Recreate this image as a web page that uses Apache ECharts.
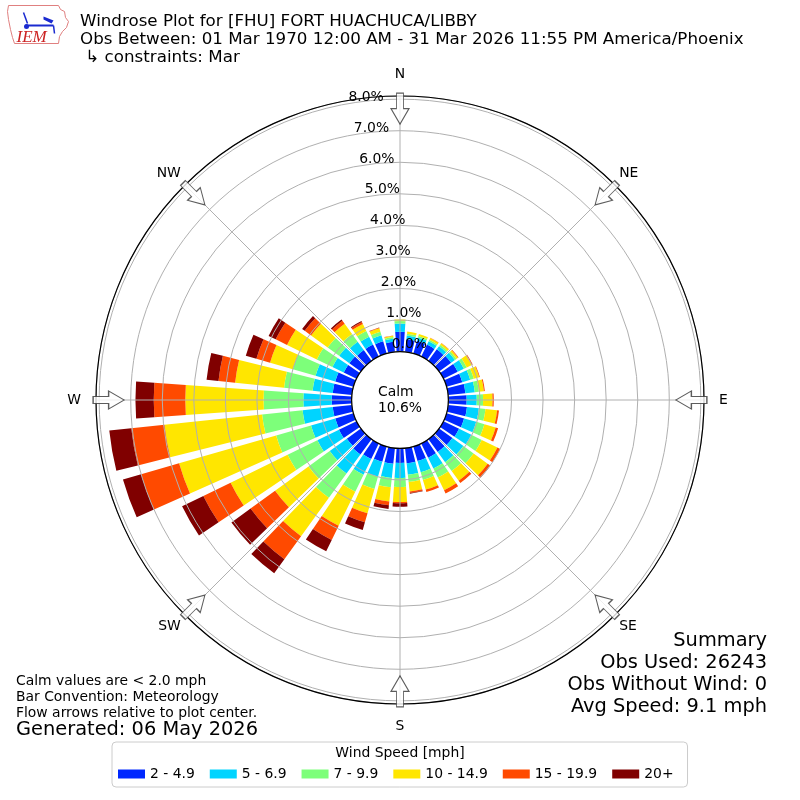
<!DOCTYPE html>
<html><head><meta charset="utf-8">
<script src="https://cdn.jsdelivr.net/npm/echarts@6/dist/echarts.min.js"></script>
<style>html,body{margin:0;padding:0;background:#fff}#c{width:800px;height:800px}</style>
</head><body><div id="c"></div>
<script>
// ---- data ----
const directions = [0,10,20,30,40,50,60,70,80,90,100,110,120,130,140,150,160,170,180,190,200,210,220,230,240,250,260,270,280,290,300,310,320,330,340,350];
const compassNames = ['N','NE','E','SE','S','SW','W','NW'];
const compassAngles = [0,45,90,135,180,225,270,315];
const speedBins = ['2 - 4.9','5 - 6.9','7 - 9.9','10 - 14.9','15 - 19.9','20+'];
const binColors = ['#0028ff','#00d4ff','#7dff7a','#ffe600','#ff4a00','#800000'];
const radialTicks = [0,1,2,3,4,5,6,7,8];
const summaryLines = ['Summary','Obs Used: 26243','Obs Without Wind: 0','Avg Speed: 9.1 mph'];
// percent of observations per direction, per speed bin
const spd2to5   = [.63,.40,.42,.42,.45,.47,.50,.52,.55,.58,.60,.58,.55,.52,.50,.50,.48,.48,.46,.50,.50,.55,.60,.55,.62,.60,.61,.63,.61,.60,.45,.45,.42,.42,.40,.32];
const spd5to7   = [.26,.12,.11,.12,.12,.15,.22,.26,.30,.32,.38,.40,.43,.43,.40,.38,.37,.37,.48,.45,.50,.55,.75,.67,.76,.80,.96,.90,.64,.65,.40,.40,.33,.28,.20,.10];
const spd7to10  = [.08,.06,.05,.05,.06,.06,.10,.12,.13,.20,.21,.27,.37,.40,.35,.32,.25,.23,.28,.30,.40,.60,.95,.83,1.05,1.15,1.29,1.26,.91,.75,.55,.45,.30,.20,.12,.05];
const spd10to15 = [.05,.07,.06,.06,.06,.06,.18,.18,.16,.30,.37,.37,.55,.55,.38,.45,.32,.30,.48,.45,.80,1.20,1.50,1.31,2.01,3.20,3.11,2.48,1.56,.75,1.05,.65,.40,.25,.11,.04];
const spd15to20 = [0,0,0,.01,.01,.02,.03,.02,.03,.04,.06,.08,.10,.10,.09,.11,.08,.05,.04,.12,.30,.50,.90,.96,.96,1.25,1.06,1.00,.53,.45,.40,.25,.12,.07,.02,.01];
const spd20plus = [0,0,0,0,0,0,0,0,0,0,0,0,0,.01,0,0,0,.02,.11,.12,.25,.40,.55,.75,.75,.60,.70,.58,.38,.35,.25,.10,.05,.03,.01,0];
const calmPct = 10.6;
const arrowRadius = 7.7;

const seriesData = [spd2to5, spd5to7, spd7to10, spd10to15, spd15to20, spd20plus];
const FONT = 'DejaVu Sans';
const RMAX = 8.1;
const CENTER = [400, 400];
const RADII = [48.4, 304];

const chart = echarts.init(document.getElementById('c'), null, {renderer: 'canvas'});

const barSeries = speedBins.map((name, i) => ({
  name, type: 'bar', coordinateSystem: 'polar', polarIndex: 0, stack: 'rose',
  data: seriesData[i], barCategoryGap: '20%',
  itemStyle: {color: binColors[i]}, z: 2, silent: true
}));

const arrowPath = 'path://M-3.5,-15.5 L3.5,-15.5 L3.5,0 L9,0 L0,15.5 L-9,0 L-3.5,0 Z';
const arrowSeries = {
  type: 'scatter', coordinateSystem: 'polar', polarIndex: 1, z: 6, silent: true,
  symbol: arrowPath, symbolSize: [18, 31],
  itemStyle: {color: '#fff', borderColor: '#333', borderWidth: 1.1},
  data: compassAngles.map(a => ({value: [arrowRadius, a], symbolRotate: -a}))
};

const isCardinal = a => a % 90 === 0;

const summaryGraphics = summaryLines.map((t, i) => ({
  type: 'text', right: 33, top: 631 + i * 22, z: 10, silent: true,
  style: {text: t, font: '19.4px "DejaVu Sans"', fill: '#000'}
}));

const option = {
  animation: false,
  backgroundColor: '#fff',
  textStyle: {fontFamily: FONT},
  polar: [
    {center: CENTER, radius: RADII},
    {center: CENTER, radius: RADII},
    {center: [409.3, 344.5], radius: [0, 31.4 * RMAX]},
    {center: CENTER, radius: RADII}
  ],
  angleAxis: [
    {polarIndex: 0, type: 'category', data: directions, startAngle: 95, clockwise: true, show: false},
    {polarIndex: 1, type: 'value', min: 0, max: 360, interval: 45, startAngle: 90, clockwise: true, z: 4,
     axisLine: {show: true, lineStyle: {color: '#000', width: 1.2}},
     axisTick: {show: false},
     axisLabel: {show: true, margin: 15, fontSize: 13.9, color: '#000', fontFamily: FONT,
       formatter: v => { const k = compassAngles.indexOf(v); return (k >= 0 && isCardinal(v)) ? compassNames[k] : ''; }},
     splitLine: {show: true, lineStyle: {color: '#b0b0b0', width: 1}}},
    {polarIndex: 2, type: 'value', min: 0, max: 360, startAngle: 99.9, clockwise: true, show: false},
    {polarIndex: 3, type: 'value', min: 0, max: 360, interval: 45, startAngle: 90, clockwise: true, z: 4,
     axisLine: {show: false}, axisTick: {show: false}, splitLine: {show: false},
     axisLabel: {show: true, margin: 6, fontSize: 13.9, color: '#000', fontFamily: FONT,
       formatter: v => { const k = compassAngles.indexOf(v); return (k >= 0 && !isCardinal(v)) ? compassNames[k] : ''; }}}
  ],
  radiusAxis: [
    {polarIndex: 0, type: 'value', min: 0, max: RMAX, show: false},
    {polarIndex: 1, type: 'value', min: 0, max: RMAX, interval: 1, z: 4,
     axisLine: {show: false}, axisTick: {show: false}, axisLabel: {show: false},
     splitLine: {show: true, lineStyle: {color: '#b0b0b0', width: 1}}},
    {polarIndex: 2, type: 'value', min: 0, max: RMAX, interval: 1, z: 5,
     axisLine: {show: false}, axisTick: {show: false}, splitLine: {show: false},
     axisLabel: {show: true, margin: 0, align: 'center', verticalAlign: 'middle', fontSize: 13.9, color: '#000', fontFamily: FONT,
       formatter: v => radialTicks.indexOf(v) >= 0 ? v.toFixed(1) + '%' : ''}},
    {polarIndex: 3, type: 'value', min: 0, max: RMAX, show: false}
  ],
  legend: {
    data: speedBins, left: 112, top: 742, orient: 'horizontal',
    icon: 'rect', itemWidth: 27, itemHeight: 9, itemGap: 15,
    padding: [25, 14, 6, 6],
    backgroundColor: '#fff', borderColor: '#cccccc', borderWidth: 1, borderRadius: 4,
    textStyle: {fontSize: 13.9, color: '#000', fontFamily: FONT},
    selectedMode: false
  },
  title: [
    {text: 'Windrose Plot for [FHU] FORT HUACHUCA/LIBBY\nObs Between: 01 Mar 1970 12:00 AM - 31 Mar 2026 11:55 PM America/Phoenix\n \u21B3 constraints: Mar',
     left: 80, top: 13, padding: 0,
     textStyle: {fontSize: 16.7, lineHeight: 18, fontWeight: 'normal', color: '#000', fontFamily: FONT}},
    {text: 'Calm values are < 2.0 mph\nBar Convention: Meteorology\nFlow arrows relative to plot center.',
     left: 16, top: 673, padding: 0,
     textStyle: {fontSize: 13.9, lineHeight: 16, fontWeight: 'normal', color: '#000', fontFamily: FONT}},
    {text: 'Generated: 06 May 2026', left: 16, top: 719, padding: 0,
     textStyle: {fontSize: 19.4, lineHeight: 22, fontWeight: 'normal', color: '#000', fontFamily: FONT}},
    {text: 'Wind Speed [mph]', left: 'center', top: 745, padding: 0, z: 10,
     textStyle: {fontSize: 13.9, lineHeight: 16, fontWeight: 'normal', color: '#000', fontFamily: FONT}}
  ],
  graphic: [
    {type: 'text', left: 'center', top: 384, z: 10, silent: true,
     style: {text: 'Calm\n' + calmPct.toFixed(1) + '%', font: '13.9px "DejaVu Sans"', fill: '#000', align: 'center', lineHeight: 16}},
    ...summaryGraphics,
    {type: 'group', left: 5, top: 3, z: 10, silent: true, children: [
      {type: 'polyline', shape: {points: [[1,1],[51,1],[53,5],[57,7],[58,13],[61,17],[59,23],[55,27],[52,32],[51,39],[7,39],[5,33],[3,25],[1,15],[0,7],[1,1]]},
       style: {stroke: '#e08080', fill: null, lineWidth: 1}},
      {type: 'line', shape: {x1: 18, y1: 21, x2: 46, y2: 21}, style: {stroke: '#1a2ad0', lineWidth: 2}},
      {type: 'line', shape: {x1: 16, y1: 8, x2: 20, y2: 19}, style: {stroke: '#1a2ad0', lineWidth: 1.5}},
      {type: 'polygon', shape: {points: [[36,12],[46,16],[44,19],[36,15]]}, style: {fill: '#1a2ad0'}},
      {type: 'circle', shape: {cx: 19, cy: 22, r: 2.5}, style: {fill: '#1a2ad0'}},
      {type: 'line', shape: {x1: 46, y1: 21, x2: 47, y2: 29}, style: {stroke: '#1a2ad0', lineWidth: 1.5}},
      {type: 'text', x: 9, y: 25, style: {text: 'IEM', font: 'italic 17px "Liberation Serif"', fill: '#cc2222'}}
    ]}
  ],
  series: [...barSeries, arrowSeries]
};
chart.setOption(option);
</script>
</body></html>
